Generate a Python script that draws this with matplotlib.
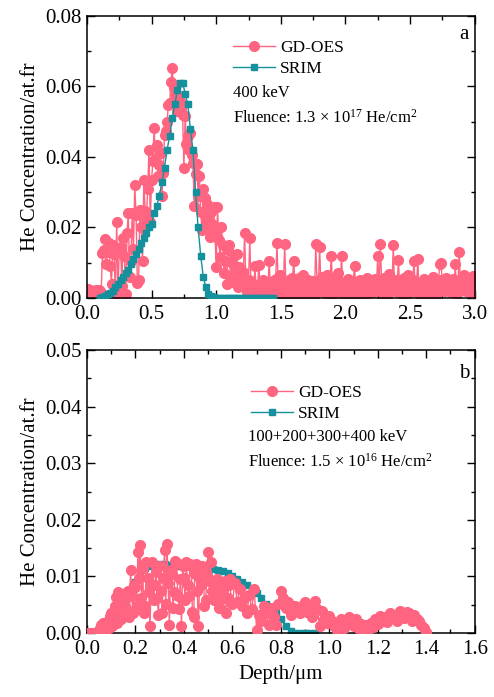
import numpy as np
import matplotlib
matplotlib.use("Agg")
import matplotlib.pyplot as plt
from matplotlib.ticker import MultipleLocator, FormatStrFormatter

plt.rcParams['font.family'] = ['Liberation Serif', 'DejaVu Serif']
plt.rcParams['mathtext.fontset'] = 'custom'
plt.rcParams['mathtext.rm'] = 'Liberation Serif'
plt.rcParams['mathtext.it'] = 'Liberation Serif:italic'

PINK = '#FF6480'
TEAL = '#14919D'

# ---- panel a : 400 keV ----
depth_a = np.linspace(0, 3.0, 301)
gdoes_a = [
    0.002, 0.0025, 0.0022, 0.002, 0.0021, 0.0018, 0.0019, 0.0022, 0.002, 0.0024,
    0.002, 0.0015, 0.0127, 0.0135, 0.0166, 0.0095, 0.013, 0.0155, 0.009, 0.004,
    0.015, 0.0125, 0.0008, 0.0215, 0.0015, 0.0136, 0.0145, 0.0035, 0.017, 0.012,
    0.001, 0.0185, 0.024, 0.006, 0.0104, 0.024, 0.0138, 0.032, 0.0235, 0.0043,
    0.005, 0.025, 0.0202, 0.0105, 0.0335, 0.0248, 0.0225, 0.031, 0.042, 0.0215,
    0.0335, 0.0388, 0.0482, 0.0395, 0.0433, 0.0345, 0.0378, 0.041, 0.029, 0.0355,
    0.0462, 0.0475, 0.05, 0.0548, 0.0552, 0.0614, 0.0652, 0.0595, 0.058, 0.0605,
    0.053, 0.0572, 0.056, 0.0535, 0.0518, 0.037, 0.0517, 0.0437, 0.046, 0.042,
    0.0467, 0.0405, 0.0384, 0.0262, 0.0352, 0.038, 0.029, 0.0347, 0.0245, 0.0193,
    0.031, 0.0285, 0.022, 0.0267, 0.0198, 0.0172, 0.0245, 0.021, 0.0258, 0.0185,
    0.0087, 0.0257, 0.0165, 0.0115, 0.02, 0.015, 0.0072, 0.0105, 0.004, 0.0135,
    0.015, 0.0062, 0.0098, 0.0045, 0.0118, 0.0075, 0.0124, 0.0032, 0.0088, 0.006,
    0.0042, 0.0075, 0.0185, 0.0025, 0.0018, 0.005, 0.017, 0.0012, 0.0042, 0.003,
    0.009, 0.0003, 0.0035, 0.0093, 0.002, 0.0008, 0.0052, 0.0028, 0.0045, 0.0015,
    0.0032, 0.0105, 0.002, 0.0003, 0.0048, 0.003, 0.0055, 0.0156, 0.0025, 0.0065,
    0.0038, 0.0012, 0.0045, 0.0152, 0.002, 0.004, 0.0052, 0.0004, 0.0035, 0.0058,
    0.0105, 0.0028, 0.0045, 0.0012, 0.0058, 0.0004, 0.0032, 0.0065, 0.0042, 0.0018,
    0.003, 0.0052, 0.001, 0.0038, 0.0022, 0.0048, 0.0003, 0.0152, 0.0045, 0.0028,
    0.0146, 0.0035, 0.006, 0.0018, 0.0042, 0.0025, 0.0065, 0.0004, 0.0048, 0.012,
    0.003, 0.0055, 0.0015, 0.0038, 0.0072, 0.0028, 0.0045, 0.012, 0.0012, 0.0035,
    0.0042, 0.002, 0.0055, 0.0008, 0.0038, 0.0028, 0.0048, 0.009, 0.0018, 0.0003,
    0.0032, 0.0052, 0.0025, 0.0045, 0.001, 0.0038, 0.003, 0.0058, 0.0015, 0.0035,
    0.0025, 0.0048, 0.0018, 0.0055, 0.0038, 0.012, 0.0028, 0.0152, 0.0042, 0.0012,
    0.0058, 0.0032, 0.0004, 0.0045, 0.0068, 0.0025, 0.0038, 0.015, 0.002, 0.0052,
    0.0035, 0.0108, 0.0015, 0.0048, 0.0028, 0.0058, 0.0003, 0.0038, 0.0065, 0.0025,
    0.0045, 0.0018, 0.0052, 0.0104, 0.003, 0.0038, 0.011, 0.0012, 0.0042, 0.0028,
    0.0032, 0.0055, 0.0012, 0.0042, 0.0025, 0.0048, 0.0004, 0.0038, 0.006, 0.0028,
    0.0045, 0.001, 0.0052, 0.0095, 0.0098, 0.003, 0.0042, 0.002, 0.0058, 0.0035,
    0.0025, 0.0048, 0.0018, 0.0055, 0.0038, 0.0095, 0.0012, 0.0042, 0.013, 0.0028,
    0.0052, 0.0032, 0.0065, 0.002, 0.0045, 0.003, 0.005, 0.0038, 0.0015, 0.0062,
    0.006,
]
srim_depth_a = np.linspace(0.10, 1.44, 68)
srim_a = [
    0.0, 0.0003, 0.0006, 0.001, 0.0015, 0.002, 0.003, 0.004, 0.005, 0.006,
    0.007, 0.008, 0.0095, 0.011, 0.0125, 0.014, 0.0155, 0.017, 0.0185, 0.020,
    0.021, 0.024, 0.026, 0.029, 0.033, 0.037, 0.042, 0.046, 0.051, 0.055,
    0.059, 0.061, 0.061, 0.058, 0.055, 0.048, 0.042, 0.030, 0.020, 0.012,
    0.006, 0.003, 0.0012, 0.0005, 0.0002, 0.0001,
] + [0.0] * 22

# ---- panel b : 100+200+300+400 keV ----
depth_b = np.concatenate([np.linspace(0, 0.595, 120), np.linspace(0.6, 1.4, 81)])
gdoes_b = [
    0, 0, 0, 0, 0, 0, 0, 0, 0, 0,
    0.0003, 0.0008, 0.0014, 0.0018, 0.0016, 0.0012, 0.0005, 0.0022, 0.0008, 0.003,
    0.0035, 0.0012, 0.002, 0.0048, 0.0064, 0.0018, 0.0073, 0.0042, 0.0025, 0.0058,
    0.0068, 0.0032, 0.0045, 0.0072, 0.0075, 0.0028, 0.0111, 0.0065, 0.0035, 0.0085,
    0.0082, 0.0048, 0.0143, 0.0098, 0.0155, 0.0062, 0.0115, 0.0035, 0.0048, 0.0125,
    0.0098, 0.0072, 0.0012, 0.0085, 0.0125, 0.0058, 0.0085, 0.0108, 0.0062, 0.0032,
    0.0118, 0.0075, 0.0035, 0.0098, 0.0146, 0.0052, 0.0158, 0.0088, 0.0014, 0.0112,
    0.0105, 0.0045, 0.0072, 0.0128, 0.0124, 0.0065, 0.0042, 0.0095, 0.0012, 0.0118,
    0.0098, 0.0058, 0.0125, 0.0085, 0.0065, 0.0122, 0.0118, 0.0038, 0.0028, 0.0105,
    0.0122, 0.0075, 0.0012, 0.0095, 0.0085, 0.0118, 0.011, 0.0048, 0.0058, 0.0102,
    0.0144, 0.0092, 0.0126, 0.0075, 0.0092, 0.0058, 0.0068, 0.0095, 0.0081, 0.0045,
    0.0045, 0.0088, 0.0078, 0.0062, 0.0092, 0.0035, 0.0061, 0.0085, 0.0096, 0.0055,
    0.0052, 0.0088, 0.0055, 0.0078, 0.0048, 0.0062, 0.0035, 0.0068, 0.0042, 0.0078,
    0.0006, 0.0032, 0.0022, 0.0048, 0.0035, 0.0015, 0.0045, 0.0028, 0.0015, 0.0052,
    0.0075, 0.0062, 0.0045, 0.0054, 0.0032, 0.0041, 0.0048, 0.0043, 0.0036, 0.0049,
    0.0054, 0.0038, 0.0045, 0.0028, 0.0057, 0.0042, 0.0012, 0.0039, 0.0025, 0.0018,
    0.003, 0.0022, 0.0012, 0.0006, 0.0018, 0.0024, 0.0008, 0.0015, 0.0029, 0.0019,
    0.0012, 0.0025, 0.0009, 0.0016, 0.0007, 0.0014, 0.0006, 0.0018, 0.0011, 0.0024,
    0.0016, 0.003, 0.0022, 0.0028, 0.0019, 0.0036, 0.0026, 0.0032, 0.0021, 0.0039,
    0.0034, 0.0027, 0.0038, 0.0036, 0.0022, 0.0031, 0.0025, 0.0021, 0.0015, 0.0008,
    0.0001,
]
srim_depth_b = np.linspace(0.0, 0.94, 48)
srim_b = [
    0.0, 0.0, 0.0, 0.0, 0.001, 0.002, 0.003, 0.0045, 0.006, 0.0075,
    0.009, 0.0105, 0.0115, 0.0118, 0.012, 0.0122, 0.0122, 0.012, 0.012, 0.0119,
    0.0119, 0.0118, 0.0117, 0.0116, 0.0115, 0.0114, 0.0113, 0.0112, 0.0109, 0.0106,
    0.0101, 0.0096, 0.009, 0.0084, 0.0077, 0.007, 0.0061, 0.0052, 0.0045, 0.0035,
    0.0024, 0.0012, 0.0004, 0.0, 0.0, 0.0, 0.0, 0.0,
]

fig = plt.figure(figsize=(4.94, 6.97), dpi=100)
ax1 = fig.add_axes([0.176, 0.5725, 0.785, 0.4046])
ax2 = fig.add_axes([0.176, 0.0918, 0.785, 0.406])

ax1.plot(depth_a, gdoes_a, '-o', color=PINK, ms=7, lw=1, label='GD-OES', zorder=2)
ax1.plot(srim_depth_a, srim_a, '-s', color=TEAL, ms=5, lw=1, label='SRIM', zorder=3)

ax2.plot(srim_depth_b, srim_b, '-s', color=TEAL, ms=5, lw=1, label='SRIM', zorder=2)
ax2.plot(depth_b, gdoes_b, '-o', color=PINK, ms=7, lw=1, label='GD-OES', zorder=3)

ax1.set_xlim(0, 3.0)
ax1.set_ylim(0, 0.08)
ax1.xaxis.set_major_locator(MultipleLocator(0.5))
ax1.xaxis.set_minor_locator(MultipleLocator(0.25))
ax1.yaxis.set_major_locator(MultipleLocator(0.02))
ax1.yaxis.set_minor_locator(MultipleLocator(0.01))
ax1.xaxis.set_major_formatter(FormatStrFormatter('%.1f'))
ax1.yaxis.set_major_formatter(FormatStrFormatter('%.2f'))

ax2.set_xlim(0, 1.6)
ax2.set_ylim(0, 0.05)
ax2.xaxis.set_major_locator(MultipleLocator(0.2))
ax2.xaxis.set_minor_locator(MultipleLocator(0.1))
ax2.yaxis.set_major_locator(MultipleLocator(0.01))
ax2.yaxis.set_minor_locator(MultipleLocator(0.005))
ax2.xaxis.set_major_formatter(FormatStrFormatter('%.1f'))
ax2.yaxis.set_major_formatter(FormatStrFormatter('%.2f'))

for ax in (ax1, ax2):
    ax.tick_params(which='both', direction='in', top=True, right=True, labelsize=15)
    ax.tick_params(which='major', length=6, width=1)
    ax.tick_params(which='minor', length=3, width=1)
    ax.tick_params(axis='x', pad=5)
    for s in ax.spines.values():
        s.set_linewidth(1.1)
    ax.set_ylabel('He Concentration/at.fr', fontsize=15, labelpad=4)

ax2.set_xlabel('Depth/\u03bcm', fontsize=15)

h, l = ax1.get_legend_handles_labels()
ax1.legend(h, l, loc='center left', bbox_to_anchor=(0.36, 0.85), frameon=False,
           fontsize=12.5, handlelength=2.4, handletextpad=0.3, labelspacing=0.3,
           borderaxespad=0)
ax1.text(0.376, 0.727, '400 keV', transform=ax1.transAxes, fontsize=12, va='center')
ax1.text(0.376, 0.638, 'Fluence: 1.3 \u00d7 10$^{17}$ He/cm$^{2}$', transform=ax1.transAxes,
         fontsize=12, va='center')
ax1.text(0.985, 0.935, 'a', transform=ax1.transAxes, fontsize=15, ha='right', va='center')

h, l = ax2.get_legend_handles_labels()
ax2.legend(h[::-1], l[::-1], loc='center left', bbox_to_anchor=(0.405, 0.812), frameon=False,
           fontsize=12.5, handlelength=2.4, handletextpad=0.3, labelspacing=0.3,
           borderaxespad=0)
ax2.text(0.415, 0.693, '100+200+300+400 keV', transform=ax2.transAxes, fontsize=12, va='center')
ax2.text(0.415, 0.604, 'Fluence: 1.5 \u00d7 10$^{16}$ He/cm$^{2}$', transform=ax2.transAxes,
         fontsize=12, va='center')
ax2.text(0.985, 0.918, 'b', transform=ax2.transAxes, fontsize=15, ha='right', va='center')

fig.savefig('out.png', dpi=100)
